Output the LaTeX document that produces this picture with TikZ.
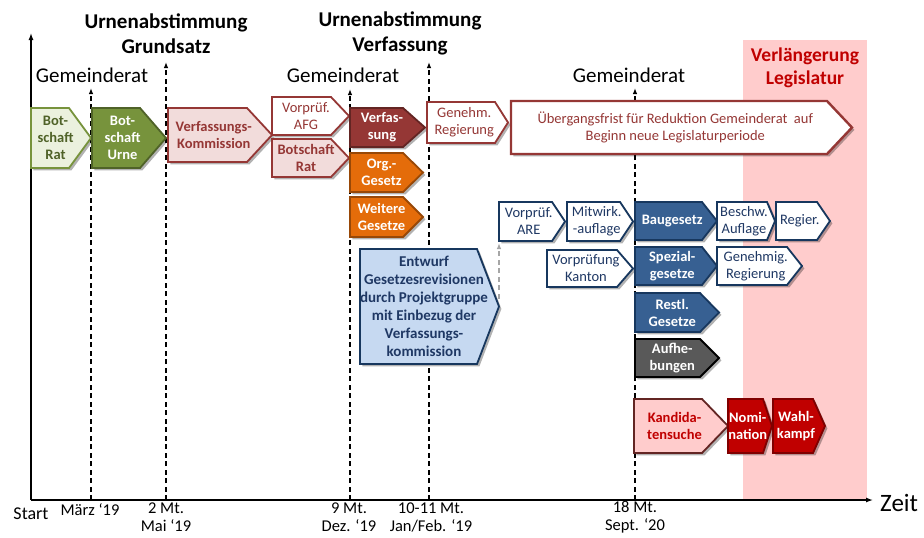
\documentclass[tikz,border=0pt]{standalone}
\usepackage{fontspec}
\setmainfont{Carlito}
\usetikzlibrary{arrows.meta,shadows}
\definecolor{cLG}{HTML}{EBF1DE}
\definecolor{cGB}{HTML}{77933C}
\definecolor{cGT}{HTML}{4F6228}
\definecolor{cPink}{HTML}{F2DCDB}
\definecolor{cDR}{HTML}{953735}
\definecolor{cDDR}{HTML}{632523}
\definecolor{cOr}{HTML}{E46C0A}
\definecolor{cOrD}{HTML}{984807}
\definecolor{cLB}{HTML}{C6D9F1}
\definecolor{cNavy}{HTML}{17375E}
\definecolor{cNavyT}{HTML}{1F3864}
\definecolor{cBlue}{HTML}{376092}
\definecolor{cGrey}{HTML}{595959}
\definecolor{cRed}{HTML}{C00000}
\definecolor{cRedD}{HTML}{800000}
\definecolor{cBg}{HTML}{FFCCCC}
\definecolor{cGreyA}{HTML}{A6A6A6}
\newcommand\abox[8]{%
  \draw[#2] (#3,#4) -- ({#5-#7},#4) -- (#5,{(#4+#6)/2}) -- ({#5-#7},#6) -- (#3,#6) -- cycle;
  \node[#2 txt] (#1) at ({(#3+#5-#7/2)/2},{(#4+#6)/2}) {#8};
  \coordinate (#1-tip) at (#5,{(#4+#6)/2});
  \coordinate (#1-sw) at (#3,#6);
}
\tikzset{
  bx/.style={line width=1.8pt, drop shadow={shadow xshift=2.4pt,shadow yshift=-2.4pt,opacity=0.3,fill=black}},
  tx/.style={align=center, inner sep=0pt, font=\fontsize{14.5}{17}\selectfont},
  txb/.style={align=center, inner sep=0pt, font=\fontsize{14.5}{17}\selectfont\bfseries},
  lgreen/.style={bx, fill=cLG, draw=cGB},
  lgreen txt/.style={txb, text=cGT},
  dgreen/.style={bx, fill=cGB, draw=cGT},
  dgreen txt/.style={txb, text=white},
  pinkb/.style={bx, fill=cPink, draw=cDR},
  pinkb txt/.style={txb, text=cDR},
  wred/.style={bx, fill=white, draw=cDR},
  wred txt/.style={tx, text=cDR},
  wredthick/.style={bx, fill=white, draw=cDR, line width=2.4pt},
  wredthick txt/.style={tx, text=cDR},
  dred/.style={bx, fill=cDR, draw=cDDR},
  dred txt/.style={txb, text=white},
  orangeb/.style={bx, fill=cOr, draw=cOrD},
  orangeb txt/.style={txb, text=white},
  lblue/.style={bx, fill=cLB, draw=cNavy},
  lblue txt/.style={align=center, inner sep=0pt, font=\fontsize{15}{18}\selectfont\bfseries, text=cNavyT},
  wblue/.style={bx, fill=white, draw=cNavy},
  wblue txt/.style={tx, text=cNavyT},
  blueb/.style={bx, fill=cBlue, draw=cNavy},
  blueb txt/.style={txb, text=white},
  greyb/.style={bx, fill=cGrey, draw=black},
  greyb txt/.style={txb, text=white},
  candb/.style={bx, fill=cBg, draw=cDDR},
  candb txt/.style={txb, text=cRed},
  redb/.style={bx, fill=cRed, draw=cRedD},
  redb txt/.style={txb, text=white},
  vdash/.style={line width=1.1pt, dash pattern=on 5pt off 3.5pt, -{Latex[length=6pt,width=4.5pt]}},
  head/.style={align=center, inner sep=0pt, font=\fontsize{21}{25}\selectfont\bfseries},
  gr/.style={inner sep=0pt, font=\fontsize{21}{24}\selectfont},
  tick/.style={align=center, inner sep=0pt, font=\fontsize{16.5}{18}\selectfont},
}
\begin{document}
\begin{tikzpicture}[x=1pt,y=-1pt]
\useasboundingbox (0,0) rectangle (924,538);
% background band
\fill[cBg] (743,40) rectangle (867,500);
\node[align=center, inner sep=0pt, font=\fontsize{19.5}{23}\selectfont\bfseries, text=cRed] (verl) at (805,68) {Verlängerung\\Legislatur};
% axes
\coordinate (origin) at (31,500);
\coordinate (ytop) at (31,33);
\coordinate (xend) at (873,500);
\draw[line width=1.3pt, -{Latex[length=7pt,width=5pt]}] (origin) -- (ytop);
\draw[line width=1.3pt, -{Latex[length=7pt,width=5pt]}] (origin) -- (xend);
\node[inner sep=0pt, font=\fontsize{25}{28}\selectfont, anchor=west] (zeit) at (880,503) {Zeit};
% time markers
\coordinate (m1b) at (91,500);  \coordinate (m1t) at (91,88);
\coordinate (m2b) at (166,500); \coordinate (m2t) at (166,62);
\coordinate (m3b) at (350,500); \coordinate (m3t) at (350,89);
\coordinate (m4b) at (429,500); \coordinate (m4t) at (429,62);
\coordinate (m5b) at (635,500); \coordinate (m5t) at (635,88);
\draw[vdash] (m1b) -- (m1t);
\draw[vdash] (m2b) -- (m2t);
\draw[vdash] (m3b) -- (m3t);
\draw[vdash] (m4b) -- (m4t);
\draw[vdash] (m5b) -- (m5t);
% headings
\node[head] (hg) at (166,34) {Urnenabstimmung\\Grundsatz};
\node[head] (hv) at (400,33) {Urnenabstimmung\\Verfassung};
\node[gr] (g1) at (92,75) {Gemeinderat};
\node[gr] (g2) at (343,75) {Gemeinderat};
\node[gr] (g3) at (629,75) {Gemeinderat};
% tick labels
\node[tick, font=\fontsize{18}{20}\selectfont] (lstart) at (31,514) {Start};
\node[tick] (l1) at (90,510) {März ‘19};
\node[tick] (l2) at (166,517) {2 Mt.\\Mai ‘19};
\node[tick] (l3) at (349,517) {9 Mt.\\Dez. ‘19};
\node[tick] (l4) at (431,517) {10-11 Mt.\\Jan/Feb. ‘19};
\node[tick] (l5) at (635,517) {18 Mt.\\Sept. ‘20};
% boxes
\abox{brat}{lgreen}{31}{108}{91}{168}{22}{Bot-\\schaft\\Rat}
\abox{burne}{dgreen}{92}{108}{166}{168}{26}{Bot-\\schaft\\Urne}
\abox{vkom}{pinkb}{168}{108}{272}{162}{25}{Verfassungs-\\Kommission}
\abox{vafg}{wred}{272}{97}{349}{135}{18}{Vorprüf.\\AFG}
\abox{brat2}{pinkb}{272}{139}{349}{177}{18}{Botschaft\\Rat}
\abox{verf}{dred}{350}{108}{425}{147}{22}{Verfas-\\sung}
\abox{org}{orangeb}{350}{153}{423}{192}{20}{Org.-\\Gesetz}
\abox{weit}{orangeb}{350}{197}{423}{237}{20}{Weitere\\Gesetze}
\abox{genehm}{wred}{427}{102}{508}{143}{13}{Genehm.\\Regierung}
\abox{ueber}{wredthick}{511}{101}{852}{154}{25}{Übergangsfrist für Reduktion Gemeinderat\ \ auf\\Beginn neue Legislaturperiode}
\abox{entw}{lblue}{360}{249}{499}{364}{22}{Entwurf\\Gesetzesrevisionen\\durch Projektgruppe\\mit Einbezug der\\Verfassungs-\\kommission}
\abox{are}{wblue}{499}{202}{565}{241}{13}{Vorprüf.\\ARE}
\abox{mitw}{wblue}{567}{202}{633}{241}{13}{Mitwirk.\\-auflage}
\abox{vkant}{wblue}{547}{250}{633}{287}{16}{Vorprüfung\\Kanton}
\abox{bau}{blueb}{635}{202}{717}{240}{15}{Baugesetz}
\abox{beschw}{wblue}{717}{202}{775}{240}{8}{Beschw.\\Auflage}
\abox{regier}{wblue}{776}{202}{830}{240}{13}{Regier.}
\abox{spez}{blueb}{635}{247}{717}{285}{15}{Spezial-\\gesetze}
\abox{genreg}{wblue}{717}{247}{802}{285}{15}{Genehmig.\\Regierung}
\abox{restl}{blueb}{635}{293}{719}{332}{19}{Restl.\\Gesetze}
\abox{aufh}{greyb}{635}{339}{719}{377}{19}{Aufhe-\\bungen}
\abox{kand}{candb}{634}{399}{728}{453}{26}{Kandida-\\tensuche}
\abox{nomi}{redb}{728}{399}{772}{453}{9}{Nomi-\\nation}
\abox{wahl}{redb}{773}{399}{825}{453}{12}{Wahl-\\kampf}
% grey dashed link
\draw[cGreyA, line width=1.1pt, dash pattern=on 5pt off 3.5pt, -{Latex[length=6pt,width=4.5pt]}, shorten <=8pt, shorten >=2pt] (entw-tip) -- (are-sw);
\end{tikzpicture}
\end{document}
